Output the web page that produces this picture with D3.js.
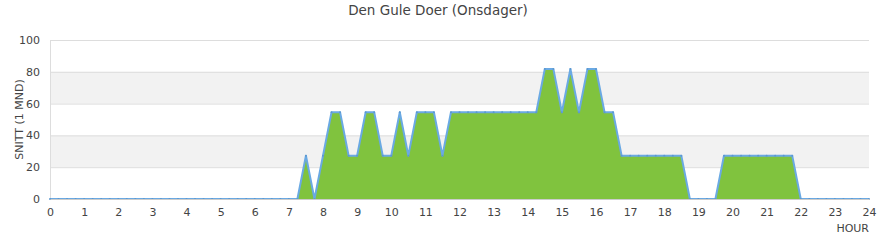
<!DOCTYPE html>
<html lang="en">
<head>
    <meta charset="UTF-8">
    <title>Den Gule Doer (Onsdager)</title>
    <script src="https://d3js.org/d3.v7.min.js"></script>
    <style>
        body { margin: 0; background: #fff; font-family: "DejaVu Sans", sans-serif; }
        text { fill: #444; }
    </style>
</head>
<body>
    <svg id="chart" width="880" height="250"></svg>
    <script>
        // =============================================
        // DATA (average per 15-minute slot, 00:00 .. 24:00)
        // =============================================
        const slotValues = [
            0, 0, 0, 0,              0, 0, 0, 0,              0, 0, 0, 0,              0, 0, 0, 0,              // 0-3
            0, 0, 0, 0,              0, 0, 0, 0,              0, 0, 0, 0,              0, 0, 27.27, 0,          // 4-7
            27.27, 54.55, 54.55, 27.27,  27.27, 54.55, 54.55, 27.27,  27.27, 54.55, 27.27, 54.55,  54.55, 54.55, 27.27, 54.55, // 8-11
            54.55, 54.55, 54.55, 54.55,  54.55, 54.55, 54.55, 54.55,  54.55, 54.55, 81.82, 81.82,  54.55, 81.82, 54.55, 81.82, // 12-15
            81.82, 54.55, 54.55, 27.27,  27.27, 27.27, 27.27, 27.27,  27.27, 27.27, 27.27, 0,      0, 0, 0, 27.27,      // 16-19
            27.27, 27.27, 27.27, 27.27,  27.27, 27.27, 27.27, 27.27,  0, 0, 0, 0,              0, 0, 0, 0,              // 20-23
            0
        ];
        const slotMinutes = 15;
        const yTicks = [0, 20, 40, 60, 80, 100];
        const xTicks = d3.range(0, 25);
        const bands = [[20, 40], [60, 80]];

        const data = slotValues.map((v, i) => ({ hour: i * slotMinutes / 60, value: v }));

        // =============================================
        // LAYOUT
        // =============================================
        const margin = { top: 40, right: 11, bottom: 51, left: 50 };
        const width = 880 - margin.left - margin.right;
        const height = 250 - margin.top - margin.bottom;

        const svg = d3.select("#chart");
        const g = svg.append("g")
            .attr("transform", `translate(${margin.left},${margin.top})`);

        const x = d3.scaleLinear().domain([0, 24]).range([0, width]);
        const y = d3.scaleLinear().domain([0, 100]).range([height, 0]);

        // alternating bands
        g.selectAll(".band")
            .data(bands)
            .enter().append("rect")
            .attr("class", "band")
            .attr("x", 0)
            .attr("width", width)
            .attr("y", d => y(d[1]))
            .attr("height", d => y(d[0]) - y(d[1]))
            .attr("fill", "#f2f2f2");

        // grid lines
        g.selectAll(".grid")
            .data(yTicks.filter(t => t > 0))
            .enter().append("line")
            .attr("x1", 0).attr("x2", width)
            .attr("y1", d => y(d) + 0.5).attr("y2", d => y(d) + 0.5)
            .attr("stroke", "#dddddd");

        // left border
        g.append("line")
            .attr("x1", 0.5).attr("x2", 0.5)
            .attr("y1", 0).attr("y2", height)
            .attr("stroke", "#dddddd");

        // area + line
        const area = d3.area()
            .x(d => x(d.hour))
            .y0(y(0))
            .y1(d => y(d.value));
        const line = d3.line()
            .x(d => x(d.hour))
            .y(d => y(d.value));

        g.append("path")
            .datum(data)
            .attr("d", area)
            .attr("fill", "#80c33e");

        g.append("path")
            .datum(data)
            .attr("d", line)
            .attr("fill", "none")
            .attr("stroke", "#6aa9e3")
            .attr("stroke-width", 2)
            .attr("stroke-linejoin", "round");

        g.selectAll(".dot")
            .data(data)
            .enter().append("circle")
            .attr("cx", d => x(d.hour))
            .attr("cy", d => y(d.value))
            .attr("r", 1)
            .attr("fill", "#5c98d0");

        // x axis
        const xAxis = g.append("g")
            .attr("transform", `translate(0,${height})`)
            .call(d3.axisBottom(x).tickValues(xTicks).tickFormat(d3.format("d")).tickSize(0).tickPadding(9));
        xAxis.select(".domain").attr("stroke", "#cccccc");
        xAxis.selectAll("text").style("font-size", "11px").style("fill", "#444").attr("font-family", "DejaVu Sans");

        // y axis
        const yAxis = g.append("g")
            .call(d3.axisLeft(y).tickValues(yTicks).tickSize(0).tickPadding(10));
        yAxis.select(".domain").remove();
        yAxis.selectAll("text").style("font-size", "11px").style("fill", "#444").attr("font-family", "DejaVu Sans");

        // titles
        svg.append("text")
            .attr("x", 438)
            .attr("y", 15)
            .attr("text-anchor", "middle")
            .style("font-size", "13.5px")
            .text("Den Gule Doer (Onsdager)");

        svg.append("text")
            .attr("transform", "rotate(-90)")
            .attr("x", -(margin.top + height / 2))
            .attr("y", 23)
            .attr("text-anchor", "middle")
            .style("font-size", "11px")
            .text("SNITT (1 MND)");

        svg.append("text")
            .attr("x", margin.left + width)
            .attr("y", 232)
            .attr("text-anchor", "end")
            .style("font-size", "11px")
            .text("HOUR");
    </script>
</body>
</html>
